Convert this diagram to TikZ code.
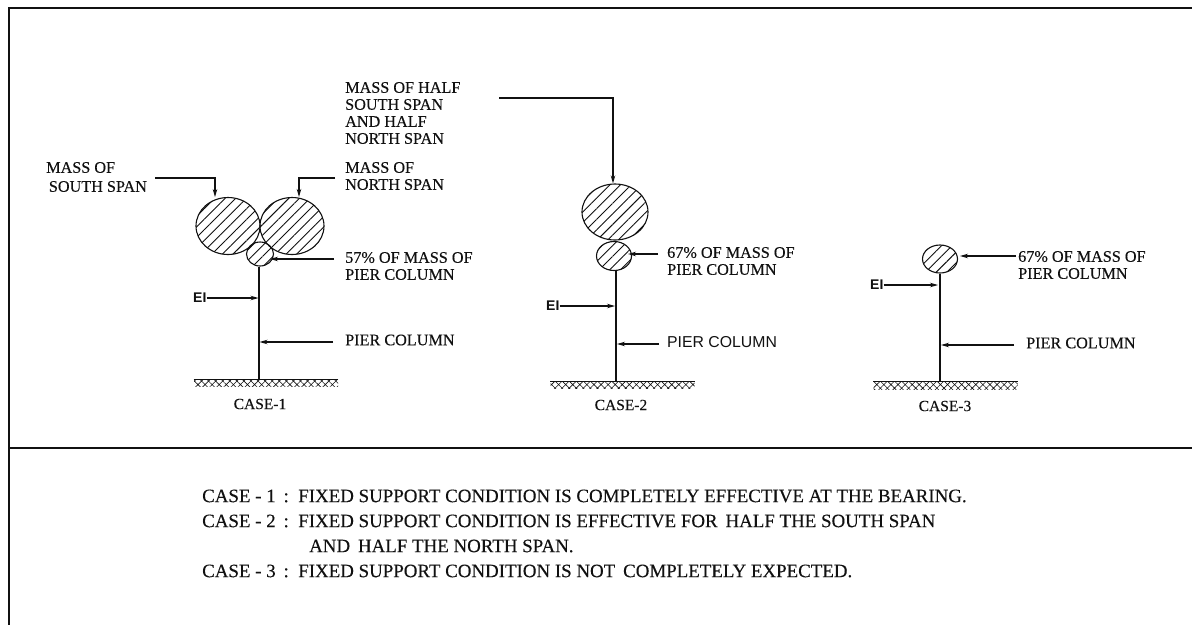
\documentclass[tikz,border=0pt]{standalone}
\usepackage{fontspec}
\setmainfont{Liberation Serif}[FakeBold=0.25]
\setsansfont{Liberation Sans}
\usepackage{tikz}
\usetikzlibrary{arrows.meta,calc,patterns.meta,shapes.geometric}
\definecolor{inkdark}{HTML}{111111}

\begin{document}
\begin{tikzpicture}[
  x=1pt, y=-1pt,
  >={Stealth[length=8pt,width=4.5pt]},
  mass/.style={draw=inkdark, ellipse, line width=1.1pt, inner sep=0pt, pattern={Lines[angle=45,distance=7.5pt,line width=0.9pt]}, pattern color=inkdark},
  ground/.style={rectangle, inner sep=0pt, minimum width=144pt, minimum height=7pt, pattern={Hatch[angle=45,distance=5pt,line width=0.6pt]}, pattern color=inkdark},
  note/.style={anchor=west, align=left, inner sep=0pt, text=inkdark, font=\fontsize{16.2}{17}\selectfont},
  sansnote/.style={note, font=\fontsize{15.8}{17}\selectfont\sffamily},
  einote/.style={note, font=\fontsize{14}{17}\selectfont\sffamily\bfseries},
  casename/.style={inner sep=0pt, text=inkdark, font=\fontsize{15.5}{17}\selectfont},
  cond/.style={anchor=west, inner sep=0pt, text=inkdark, font=\fontsize{18.9}{20}\selectfont},
  column/.style={line width=1.1pt, draw=inkdark},
  lead/.style={->, line width=1.1pt, draw=inkdark},
  frame/.style={line width=1.3pt, draw=inkdark}
]
  \useasboundingbox (0,0) rectangle (1192,625);
  % frame
  \coordinate (topleft) at (9,8);
  \coordinate (topright) at (1192,8);
  \coordinate (botleft) at (9,625);
  \coordinate (midleft) at (9,448);
  \coordinate (midright) at (1192,448);
  \draw[frame] (topright) -- (topleft) -- (botleft);
  \draw[frame] (midleft) -- (midright);

  % case 1
  \node[mass, minimum width=64pt, minimum height=57pt] (southmass) at (228,226) {};
  \node[mass, minimum width=64pt, minimum height=57pt] (northmass) at (292,226) {};
  \node[mass, minimum width=27pt, minimum height=24pt] (piermassA) at (260,254) {};
  \node[ground] (groundA) at (266,383) {};
  \draw[column] (groundA.north west) -- (groundA.north east);
  \coordinate (baseA) at (259,379.5);
  \draw[column] (piermassA.south -| baseA) -- (baseA);
  \node[note] (southtext) at (46,177) {MASS OF\\[2pt]\,SOUTH SPAN};
  \node[note] (northtext) at (345,176) {MASS OF\\NORTH SPAN};
  \node[note] (pierpctA) at (345,266) {57\% OF MASS OF\\PIER COLUMN};
  \node[note] (piertextA) at (345,340) {PIER COLUMN};
  \node[einote] (eiA) at (193,298) {EI};
  \node[casename] (caseA) at (260,404) {CASE-1};
  \coordinate (southend) at (155,178);
  \coordinate (southbend) at (215,178);
  \coordinate (northend) at (335,178);
  \coordinate (northbend) at (299,178);
  \coordinate (pctendA) at (334,259);
  \coordinate (pcttipA) at (270,259);
  \coordinate (eitipA) at (258.5,298);
  \coordinate (pierendA) at (333,342);
  \coordinate (piertipA) at (259.5,342);
  \draw[lead] (southend) -- (southbend) -- (southbend |- southmass.north);
  \draw[lead] (northend) -- (northbend) -- (northbend |- northmass.north);
  \draw[lead] (pctendA) -- (pcttipA);
  \draw[lead] (eiA.east) -- (eitipA);
  \draw[lead] (pierendA) -- (piertipA);

  % case 2
  \node[mass, minimum width=66pt, minimum height=56pt] (bothmass) at (615,212) {};
  \node[mass, minimum width=35pt, minimum height=29pt] (piermassB) at (614,256) {};
  \node[ground] (groundB) at (622.5,385) {};
  \draw[column] (groundB.north west) -- (groundB.north east);
  \coordinate (baseB) at (616,381.5);
  \draw[column] (piermassB.south -| baseB) -- (baseB);
  \node[note] (bothtext) at (345,113) {MASS OF HALF\\SOUTH SPAN\\AND HALF\\NORTH SPAN};
  \node[note] (pierpctB) at (667,261) {67\% OF MASS OF\\PIER COLUMN};
  \node[sansnote] (piertextB) at (667,342) {PIER COLUMN};
  \node[einote] (eiB) at (546,306) {EI};
  \node[casename] (caseB) at (621,405) {CASE-2};
  \coordinate (bothend) at (499,98);
  \coordinate (bothbend) at (613,98);
  \coordinate (pctendB) at (658,254);
  \coordinate (pcttipB) at (628,254);
  \coordinate (eitipB) at (615,307);
  \coordinate (pierendB) at (659,344);
  \coordinate (piertipB) at (617,344);
  \draw[lead] (bothend) -- (bothbend) -- (bothbend |- bothmass.north);
  \draw[lead] (pctendB) -- (pcttipB);
  \draw[lead] (eiB.east) -- (eitipB |- eiB.east);
  \draw[lead] (pierendB) -- (piertipB);

  % case 3
  \node[mass, minimum width=35pt, minimum height=28pt] (piermassC) at (940,259) {};
  \node[ground] (groundC) at (945.5,385.5) {};
  \draw[column] (groundC.north west) -- (groundC.north east);
  \coordinate (baseC) at (940,382);
  \draw[column] (piermassC.south) -- (baseC);
  \node[note] (pierpctC) at (1018,265) {67\% OF MASS OF\\PIER COLUMN};
  \node[note] (piertextC) at (1026,343) {PIER COLUMN};
  \node[einote] (eiC) at (870,285) {EI};
  \node[casename] (caseC) at (945,406) {CASE-3};
  \coordinate (pctendC) at (1016,256);
  \coordinate (pcttipC) at (960,256);
  \coordinate (eitipC) at (938,285);
  \coordinate (pierendC) at (1014,345);
  \coordinate (piertipC) at (941,345);
  \draw[lead] (pctendC) -- (pcttipC);
  \draw[lead] (eiC.east) -- (eitipC);
  \draw[lead] (pierendC) -- (piertipC);

  % conditions
  \node[cond] (condA) at (202,496) {CASE - 1 \,: \,FIXED SUPPORT CONDITION IS COMPLETELY EFFECTIVE AT THE BEARING.};
  \node[cond] (condB) at (202,521) {CASE - 2 \,: \,FIXED SUPPORT CONDITION IS EFFECTIVE FOR \,HALF THE SOUTH SPAN};
  \node[cond] (condBb) at (309,546) {AND \,HALF THE NORTH SPAN.};
  \node[cond] (condC) at (202,571) {CASE - 3 \,: \,FIXED SUPPORT CONDITION IS NOT \,COMPLETELY EXPECTED.};
\end{tikzpicture}
\end{document}
